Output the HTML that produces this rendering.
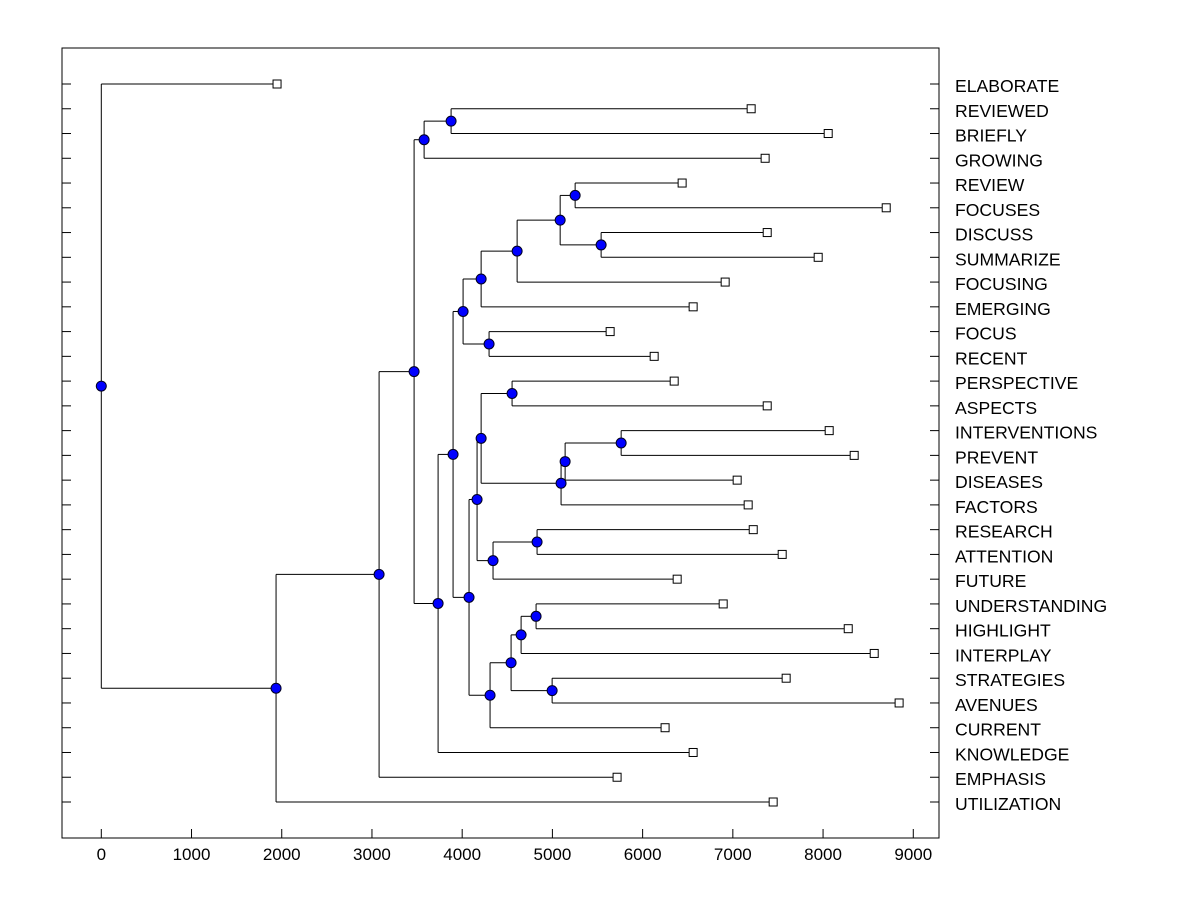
<!DOCTYPE html>
<html><head><meta charset="utf-8"><style>
html,body{margin:0;padding:0;background:#fff;}
svg{display:block;font-family:"Liberation Sans",Arial,sans-serif;}
</style></head><body>
<svg id="chart" width="1200" height="900"></svg>
<script>
const leafLabels = ["ELABORATE","REVIEWED","BRIEFLY","GROWING","REVIEW","FOCUSES","DISCUSS","SUMMARIZE","FOCUSING","EMERGING","FOCUS","RECENT","PERSPECTIVE","ASPECTS","INTERVENTIONS","PREVENT","DISEASES","FACTORS","RESEARCH","ATTENTION","FUTURE","UNDERSTANDING","HIGHLIGHT","INTERPLAY","STRATEGIES","AVENUES","CURRENT","KNOWLEDGE","EMPHASIS","UTILIZATION"];
const leafValues = [1948,7203,8057,7358,6438,8700,7381,7946,6915,6560,5640,6128,6350,7381,8068,8345,7048,7170,7226,7547,6383,6893,8279,8567,7591,8843,6249,6560,5717,7447];
const mergeLeft = [1,30,4,6,32,34,35,10,36,12,14,40,41,39,18,44,43,21,47,24,48,50,46,38,53,31,28,56,0];
const mergeRight = [2,3,5,7,33,8,9,11,37,13,15,16,17,42,19,20,45,22,23,25,49,26,51,52,27,54,55,29,57];
const mergeHeights = [3877,3578,5252,5540,5086,4609,4210,4298,4010,4553,5762,5141,5096,4210,4830,4342,4165,4819,4653,4997,4542,4309,4076,3899,3733,3467,3079,1937,0];
const xTicks = [0,1000,2000,3000,4000,5000,6000,7000,8000,9000];

const NS="http://www.w3.org/2000/svg";
const svg=document.getElementById('chart');
const L=62,R=939,T=48,B=838;
const xs=v=>101.3+v*0.09022;
const ys=i=>84+i*(802-84)/29;
function mk(tag,attrs,parent){const e=document.createElementNS(NS,tag);for(const k in attrs)e.setAttribute(k,attrs[k]);(parent||svg).appendChild(e);return e;}

const frame=mk('rect',{x:L,y:T,width:R-L,height:B-T,fill:'none',stroke:'#000','stroke-width':1});



xTicks.forEach(t=>{
  const x=xs(t);
  const tl=mk('line',{x1:x,x2:x,y1:B,y2:B-9,stroke:'#000'});
  
  
  const tx=mk('text',{x:x,y:B+22,'font-size':17,'text-anchor':'middle',fill:'#000'});
  tx.textContent=t;
  
  
});

leafLabels.forEach((lab,i)=>{
  const y=ys(i);
  const a=mk('line',{x1:L,x2:L+9,y1:y,y2:y,stroke:'#000'});
  
  
  const b=mk('line',{x1:R-9,x2:R,y1:y,y2:y,stroke:'#000'});
  
  
  const t=mk('text',{x:955,y:y+8,'font-size':17.6,fill:'#000'});
  t.textContent=lab;
  
  
});

const n=leafLabels.length;
const nodeY={},nodeX={};
for(let i=0;i<n;i++){nodeY[i]=ys(i);nodeX[i]=xs(leafValues[i]);}
const linesG=mk('g',{});
const marksG=mk('g',{});
const circles=[];
mergeHeights.forEach((h,k)=>{
  const id=n+k,a=mergeLeft[k],b=mergeRight[k];
  const x=xs(h);
  nodeX[id]=x;nodeY[id]=(nodeY[a]+nodeY[b])/2;
  const v=mk('line',{x1:x,x2:x,y1:nodeY[a],y2:nodeY[b],stroke:'#000'},linesG);
  
  
  [a,b].forEach(c=>{
    const hl=mk('line',{x1:x,x2:nodeX[c],y1:nodeY[c],y2:nodeY[c],stroke:'#000'},linesG);
    
    
  });
  circles.push([x,nodeY[id]]);
});
for(let i=0;i<n;i++){
  const s=mk('rect',{x:nodeX[i]-4,y:nodeY[i]-4,width:8,height:8,fill:'#fff',stroke:'#000'},marksG);
  
  
}
circles.forEach(([x,y])=>{
  const c=mk('circle',{cx:x,cy:y,r:5,fill:'#0000ff',stroke:'#000020','stroke-width':1},marksG);
  
  
});
</script>
</body></html>
